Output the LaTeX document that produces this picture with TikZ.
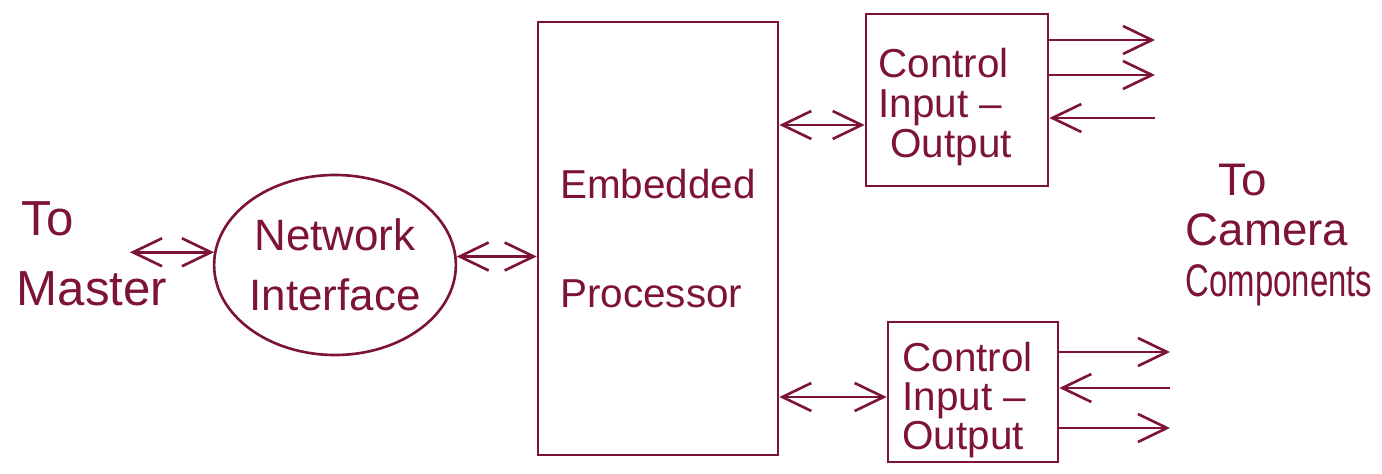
\documentclass[tikz,border=0pt]{standalone}
\usepackage{fontspec}
\usepackage{graphicx}
\setmainfont{Liberation Sans}
\usetikzlibrary{arrows.meta,shapes.geometric}
\definecolor{ink}{RGB}{125,20,55}
\begin{document}
\begin{tikzpicture}[
  inkline/.style={draw=ink, line width=0.75pt},
  dbl/.style={inkline, {Straight Barb[length=2.9mm,width=2.8mm]}-{Straight Barb[length=2.9mm,width=2.8mm]}},
  one/.style={inkline, -{Straight Barb[length=2.9mm,width=2.8mm]}},
  lbl/.style={text=ink, inner sep=0pt},
  box/.style={draw=ink, line width=0.75pt, rectangle, inner sep=0pt}
]
\useasboundingbox (0,0) rectangle (13.82,4.73);

\node[lbl, align=left, anchor=west, font=\fontsize{14}{20}\selectfont] (master) at (0.16,2.19) {\hspace*{0.05cm}To\\Master};

\node[draw=ink, line width=0.75pt, ellipse, minimum width=2.4cm, minimum height=1.8cm, inner sep=0pt, text=ink, align=center, font=\fontsize{12.5}{17}\selectfont] (net) at (3.35,2.08) {Network\\Interface};

\node[box, text=ink, minimum width=2.4cm, minimum height=4.33cm, align=left, font=\fontsize{11.5}{31}\selectfont] (proc) at (6.58,2.345) {Embedded\\Processor};

\node[box, minimum width=1.82cm, minimum height=1.72cm] (ctl1) at (9.57,3.73) {};
\node[lbl, anchor=west, align=left, font=\fontsize{11.5}{11.4}\selectfont] (ctl1t) at ([xshift=0.13cm,yshift=-0.07cm]ctl1.west) {Control\\Input –\\\hspace*{0.12cm}Output};

\node[box, minimum width=1.70cm, minimum height=1.40cm] (ctl2) at (9.73,0.81) {};
\node[lbl, anchor=west, align=left, font=\fontsize{11.5}{11.2}\selectfont] (ctl2t) at ([xshift=0.15cm,yshift=-0.08cm]ctl2.west) {Control\\Input –\\Output};

\node[lbl, align=left, anchor=west, font=\fontsize{13}{14.3}\selectfont] (cam) at (11.85,2.38) {\hspace*{0.33cm}To\\Camera\\\scalebox{0.72}[1]{Components}};

% connectors
\coordinate (tm) at (1.30,0);
\draw[dbl] (tm |- net.174) -- (net.174);
\draw[dbl] (net.4) -- (net.4 -| proc.west);

\coordinate (a1) at ([yshift=-0.25cm]ctl1.west);
\draw[dbl] (a1 -| proc.east) -- (a1);
\coordinate (a2) at ([yshift=-0.05cm]ctl2.west);
\draw[dbl] (a2 -| proc.east) -- (a2);

\coordinate (u1) at (11.55,4.33);
\coordinate (u2) at (11.55,3.98);
\coordinate (u3) at (11.55,3.55);
\draw[one] (u1 -| ctl1.east) -- (u1);
\draw[one] (u2 -| ctl1.east) -- (u2);
\draw[one] (u3) -- (u3 -| ctl1.east);

\coordinate (l1) at (11.70,1.21);
\coordinate (l2) at (11.70,0.85);
\coordinate (l3) at (11.70,0.45);
\draw[one] (l1 -| ctl2.east) -- (l1);
\draw[one] (l2) -- (l2 -| ctl2.east);
\draw[one] (l3 -| ctl2.east) -- (l3);
\end{tikzpicture}
\end{document}
